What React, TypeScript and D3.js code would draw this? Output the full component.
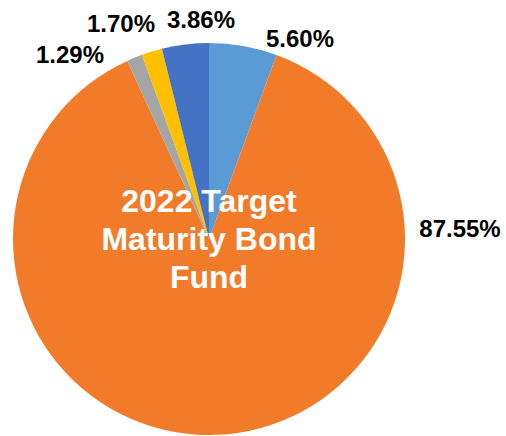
import React, { useEffect, useRef } from 'react';
import * as d3 from 'd3';

const categories = ['Series A', 'Series B', 'Series C', 'Series D', 'Series E'];
const shares = [5.6, 87.55, 1.29, 1.7, 3.86];
const valueLabels = ['5.60%', '87.55%', '1.29%', '1.70%', '3.86%'];
const centerLines = ['2022 Target', 'Maturity Bond', 'Fund'];

const colors = ['#5B9BD5', '#F27B29', '#A5A5A5', '#FFC000', '#4472C4'];
// label anchor positions (x, baseline) in px, as Excel laid them out
const labelXY: [number, number][] = [
  [300, 47],
  [460, 237],
  [70, 63],
  [121, 32],
  [201, 28],
];

const W = 506;
const H = 436;

const App: React.FC = () => {
  const ref = useRef<SVGSVGElement>(null);

  useEffect(() => {
    const svg = d3.select(ref.current);
    svg.selectAll('*').remove();

    const cx = 209;
    const cy = 239;
    const r = 196;

    const pie = d3.pie<number>().sort(null).value(d => d);
    const arc = d3.arc<d3.PieArcDatum<number>>().innerRadius(0).outerRadius(r);

    const g = svg.append('g').attr('transform', `translate(${cx},${cy})`);
    g.selectAll('path')
      .data(pie(shares))
      .enter().append('path')
      .attr('d', arc)
      .attr('fill', (d, i) => colors[i]);

    svg.selectAll('.lbl')
      .data(valueLabels)
      .enter().append('text')
      .attr('class', 'lbl')
      .attr('x', (d, i) => labelXY[i][0])
      .attr('y', (d, i) => labelXY[i][1])
      .attr('text-anchor', 'middle')
      .style('font-family', '"Liberation Sans", Arial, sans-serif')
      .style('font-weight', 'bold')
      .style('font-size', '24px')
      .attr('fill', '#000')
      .text(d => d);

    svg.selectAll('.ctr')
      .data(centerLines)
      .enter().append('text')
      .attr('class', 'ctr')
      .attr('x', cx)
      .attr('y', (d, i) => 212 + i * 38)
      .attr('text-anchor', 'middle')
      .style('font-family', '"Liberation Sans", Arial, sans-serif')
      .style('font-weight', 'bold')
      .style('font-size', '32px')
      .attr('fill', '#fff')
      .text(d => d);
  }, []);

  return (
    <div style={{ position: 'absolute', left: 0, top: 0 }}>
      <svg ref={ref} width={W} height={H} aria-label={categories.join(', ')} />
    </div>
  );
};

export default App;
